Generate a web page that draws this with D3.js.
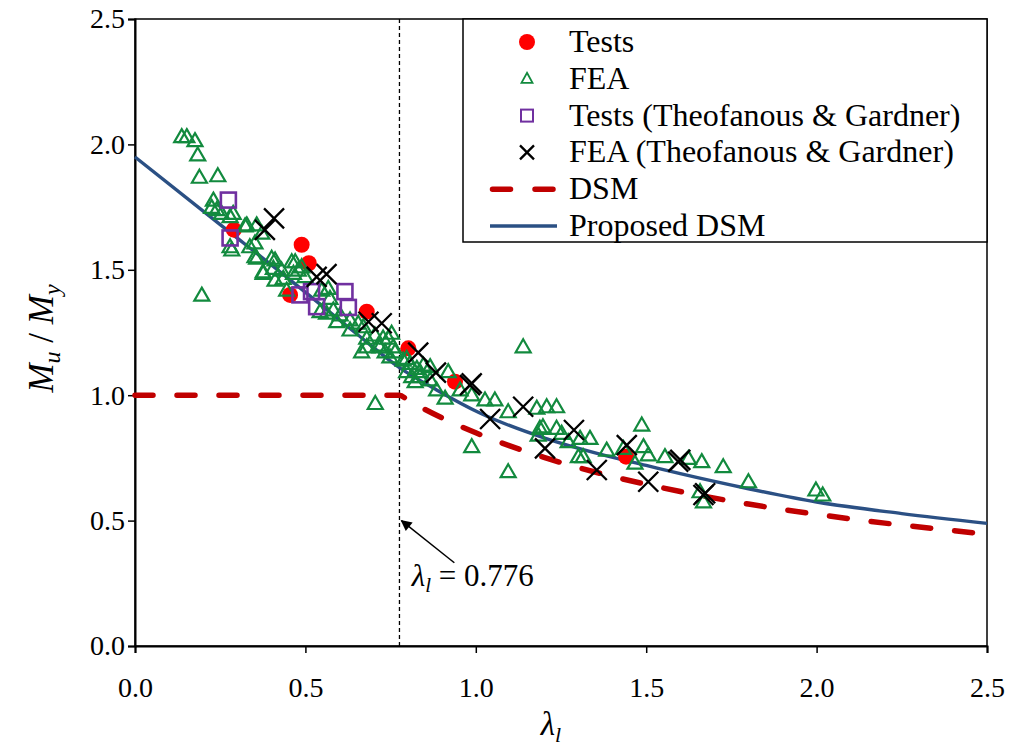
<!DOCTYPE html>
<html>
<head>
<meta charset="utf-8">
<script src="https://cdn.jsdelivr.net/npm/d3@7"></script>
<style>
  body { margin: 0; background: #fff; }
  svg { display: block; }
</style>
</head>
<body>
<svg id="chart" width="1012" height="747"></svg>
<script>
// Axis ticks
const lambdaTicks = [0, 0.5, 1.0, 1.5, 2.0, 2.5];
const ratioTicks = [0, 0.5, 1.0, 1.5, 2.0, 2.5];
const limitLambda = 0.776;

// Tests: [lambda_l, Mu/My]
const testsPts = [
  [0.290, 1.660], [0.489, 1.600], [0.510, 1.526], [0.455, 1.400],
  [0.680, 1.333], [0.802, 1.187], [0.939, 1.054], [1.441, 0.755]
];

// FEA
const feaPts = [
  [0.137, 2.031], [0.152, 2.031], [0.176, 2.015], [0.184, 1.958], [0.189, 1.869],
  [0.243, 1.875], [0.230, 1.778], [0.225, 1.749], [0.240, 1.740], [0.254, 1.725],
  [0.279, 1.712], [0.323, 1.675], [0.279, 1.592], [0.352, 1.607], [0.352, 1.552],
  [0.376, 1.486], [0.411, 1.539], [0.411, 1.459], [0.430, 1.499], [0.460, 1.532],
  [0.489, 1.512], [0.445, 1.419], [0.196, 1.399], [0.288, 1.725], [0.328, 1.679],
  [0.357, 1.679], [0.372, 1.646], [0.337, 1.592], [0.357, 1.546], [0.401, 1.546],
  [0.406, 1.506], [0.376, 1.492], [0.435, 1.466], [0.470, 1.532], [0.479, 1.499],
  [0.465, 1.486], [0.548, 1.419], [0.567, 1.426], [0.572, 1.386], [0.543, 1.333],
  [0.562, 1.327], [0.582, 1.340], [0.602, 1.320], [0.499, 1.473], [0.592, 1.293],
  [0.631, 1.260], [0.655, 1.287], [0.680, 1.193], [0.631, 1.300], [0.670, 1.273],
  [0.680, 1.227], [0.665, 1.173], [0.704, 1.240], [0.714, 1.200], [0.743, 1.227],
  [0.753, 1.247], [0.734, 1.173], [0.758, 1.193], [0.748, 1.153], [0.797, 1.147],
  [0.827, 1.107], [0.846, 1.120], [0.812, 1.074], [0.836, 1.074], [0.866, 1.114],
  [0.866, 1.061], [0.763, 1.173], [0.822, 1.054], [0.919, 1.094], [0.885, 1.021],
  [0.910, 0.988], [0.954, 1.021], [0.988, 1.001], [1.027, 0.981], [1.056, 0.981],
  [1.095, 0.934], [1.179, 0.948], [1.208, 0.954], [1.237, 0.954], [1.188, 0.868],
  [1.197, 0.874], [1.237, 0.868], [1.252, 0.848], [1.183, 0.841], [1.271, 0.815],
  [1.306, 0.828], [1.335, 0.828], [1.301, 0.755], [1.315, 0.755], [1.384, 0.781],
  [1.487, 0.881], [1.433, 0.788], [1.492, 0.795], [1.506, 0.762], [1.467, 0.729],
  [1.555, 0.755], [1.624, 0.748], [1.663, 0.735], [1.658, 0.615], [1.668, 0.575],
  [1.726, 0.715], [1.800, 0.655], [1.998, 0.622], [2.018, 0.602], [1.139, 1.193],
  [0.988, 0.795], [1.095, 0.695], [0.705, 0.967], [0.284, 1.579], [0.787, 1.140],
  [0.807, 1.127], [0.836, 1.094], [0.797, 1.094], [0.728, 1.228], [0.719, 1.193]
];

// Tests (Theofanous & Gardner)
const tgTestsPts = [
  [0.274, 1.778], [0.279, 1.627], [0.484, 1.400], [0.518, 1.413],
  [0.533, 1.353], [0.616, 1.413], [0.626, 1.350]
];

// FEA (Theofanous & Gardner)
const tgFeaPts = [
  [0.381, 1.659], [0.408, 1.705], [0.533, 1.472], [0.562, 1.483], [0.685, 1.293],
  [0.724, 1.287], [0.831, 1.170], [0.883, 1.090], [0.988, 1.047], [0.983, 1.040],
  [1.042, 0.905], [1.139, 0.954], [1.203, 0.788], [1.288, 0.861], [1.355, 0.702],
  [1.443, 0.801], [1.506, 0.655], [1.594, 0.735], [1.600, 0.742], [1.673, 0.609],
  [1.668, 0.602]
];

// DSM design curve
const dsmCurve = [
  [0, 1.0], [0.776, 1.0], [0.8, 0.981], [0.9, 0.910], [1.0, 0.850], [1.1, 0.798],
  [1.2, 0.752], [1.3, 0.712], [1.4, 0.676], [1.5, 0.645], [1.6, 0.616],
  [1.8, 0.566], [2.0, 0.525], [2.2, 0.490], [2.35, 0.467], [2.5, 0.446]
];

// Proposed DSM curve
const proposedCurve = [
  [0, 1.95], [0.25, 1.68], [0.455, 1.46], [0.55, 1.355], [0.65, 1.245],
  [0.776, 1.11], [0.885, 1.021], [1.012, 0.929], [1.2, 0.83], [1.364, 0.765],
  [1.5, 0.72], [1.6, 0.687], [1.8, 0.627], [2.0, 0.574], [2.25, 0.528], [2.5, 0.489]
];

const colors = {
  tests: "#ff0000", fea: "#128a3e", tgTests: "#7030a0", tgFea: "#000000",
  dsm: "#c00000", proposed: "#2b5084"
};

// Pick the first installed serif face by comparing measured widths against fallbacks
function hasFont(name) {
  const ctx = document.createElement("canvas").getContext("2d");
  const s = "Theofanous & Gardner 0.123456789 MWil";
  return ["monospace", "sans-serif"].some(base => {
    ctx.font = `40px ${base}`;
    const w0 = ctx.measureText(s).width;
    ctx.font = `40px "${name}", ${base}`;
    return Math.abs(ctx.measureText(s).width - w0) > 0.5;
  });
}
const serifCandidates = ["Liberation Serif", "Times New Roman", "Tinos", "DejaVu Serif",
  "Noto Serif", "FreeSerif", "Nimbus Roman", "Times"];
const serifFace = serifCandidates.find(hasFont);
const serif = serifFace ? `"${serifFace}", serif` : "serif";

const svg = d3.select("#chart").attr("font-family", serif);
const plotLeft = 135, plotRight = 987, plotTop = 19, plotBottom = 646;
const x = d3.scaleLinear().domain([0, 2.5]).range([plotLeft, plotRight]);
const y = d3.scaleLinear().domain([0, 2.5]).range([plotBottom, plotTop]);
const fmt = d3.format(".1f");

// Frame
svg.append("rect")
  .attr("x", plotLeft).attr("y", plotTop)
  .attr("width", plotRight - plotLeft).attr("height", plotBottom - plotTop)
  .attr("fill", "none").attr("stroke", "#000").attr("stroke-width", 1.5);

// Axes
const yAxis = svg.append("g")
  .attr("transform", `translate(${plotLeft},0)`)
  .call(d3.axisLeft(y).tickValues(ratioTicks).tickFormat(fmt).tickSize(7).tickPadding(3));
const xAxis = svg.append("g")
  .attr("transform", `translate(0,${plotBottom})`)
  .call(d3.axisBottom(x).tickValues(lambdaTicks).tickFormat(fmt).tickSize(7).tickPadding(24));
[yAxis, xAxis].forEach(g => {
  g.attr("font-family", serif).attr("font-size", 28);
  g.select(".domain").attr("stroke", "#000").attr("stroke-width", 2);
  g.selectAll(".tick line").attr("stroke", "#000").attr("stroke-width", 1.5);
  g.selectAll(".tick text").attr("fill", "#000");
});

// Axis titles
const yTitle = svg.append("text")
  .attr("transform", `translate(53,${(plotTop + plotBottom) / 2 + 6}) rotate(-90)`)
  .attr("text-anchor", "middle")
  .attr("font-family", serif).attr("font-size", 35);
yTitle.append("tspan").attr("font-style", "italic").text("M");
yTitle.append("tspan").attr("font-style", "italic").attr("font-size", 24).attr("dy", 7).text("u");
yTitle.append("tspan").attr("dy", -7).text(" / ");
yTitle.append("tspan").attr("font-style", "italic").text("M");
yTitle.append("tspan").attr("font-style", "italic").attr("font-size", 24).attr("dy", 7).text("y");

const xTitle = svg.append("text")
  .attr("x", (plotLeft + plotRight) / 2 - 10).attr("y", 735)
  .attr("text-anchor", "middle")
  .attr("font-family", serif).attr("font-size", 33);
xTitle.append("tspan").attr("font-style", "italic").text("λ");
xTitle.append("tspan").attr("font-style", "italic").attr("font-size", 22).attr("dy", 7).text("l");

// Limit line at lambda = 0.776
svg.append("line")
  .attr("x1", x(limitLambda)).attr("x2", x(limitLambda))
  .attr("y1", y(0)).attr("y2", y(2.5))
  .attr("stroke", "#000").attr("stroke-width", 1.3)
  .attr("stroke-dasharray", "4,3");

// Curves
const line = d3.line().x(d => x(d[0])).y(d => y(d[1])).curve(d3.curveMonotoneX);
svg.append("path").datum(dsmCurve)
  .attr("d", line).attr("fill", "none")
  .attr("stroke", colors.dsm).attr("stroke-width", 5.5)
  .attr("stroke-linecap", "round")
  .attr("stroke-dasharray", "18,24");
svg.append("path").datum(proposedCurve)
  .attr("d", line).attr("fill", "none")
  .attr("stroke", colors.proposed).attr("stroke-width", 3.4);

// Marker shapes
const triPath = "M0,-7.5L7.5,5.5L-7.5,5.5Z";
function drawCircle(g, px, py) {
  g.append("circle").attr("cx", px).attr("cy", py).attr("r", 8).attr("fill", colors.tests);
}
function drawTri(g, px, py) {
  g.append("path").attr("d", triPath).attr("transform", `translate(${px},${py})`)
    .attr("fill", "none").attr("stroke", colors.fea).attr("stroke-width", 2.2);
}
function drawSquare(g, px, py) {
  g.append("rect").attr("x", px - 7.5).attr("y", py - 7.5).attr("width", 15).attr("height", 15)
    .attr("fill", "none").attr("stroke", colors.tgTests).attr("stroke-width", 2.6);
}
function drawCross(g, px, py, r) {
  g.append("path").attr("d", `M${-r},${-r}L${r},${r}M${-r},${r}L${r},${-r}`)
    .attr("transform", `translate(${px},${py})`)
    .attr("fill", "none").attr("stroke", colors.tgFea).attr("stroke-width", 2.3);
}

const marks = svg.append("g");
testsPts.forEach(d => drawCircle(marks, x(d[0]), y(d[1])));
feaPts.forEach(d => drawTri(marks, x(d[0]), y(d[1])));
tgTestsPts.forEach(d => drawSquare(marks, x(d[0]), y(d[1])));
tgFeaPts.forEach(d => drawCross(marks, x(d[0]), y(d[1]), 10));

// Annotation arrow and label
const defs = svg.append("defs");
defs.append("marker").attr("id", "arrowHead")
  .attr("viewBox", "0 0 10 10").attr("refX", 9).attr("refY", 5)
  .attr("markerWidth", 14).attr("markerHeight", 11).attr("markerUnits", "userSpaceOnUse")
  .attr("orient", "auto")
  .append("path").attr("d", "M0,0L10,5L0,10Z").attr("fill", "#000");
svg.append("line")
  .attr("x1", x(0.937)).attr("y1", y(0.332))
  .attr("x2", x(limitLambda) + 2).attr("y2", y(0.5))
  .attr("stroke", "#000").attr("stroke-width", 1.5)
  .attr("marker-end", "url(#arrowHead)");
const ann = svg.append("text")
  .attr("x", x(0.812)).attr("y", y(0.238))
  .attr("font-family", serif).attr("font-size", 31);
ann.append("tspan").attr("font-style", "italic").text("λ");
ann.append("tspan").attr("font-style", "italic").attr("font-size", 21).attr("dy", 6).text("l");
ann.append("tspan").attr("dy", -6).text(" = " + limitLambda);

// Legend
const legend = svg.append("g");
legend.append("rect")
  .attr("x", 463).attr("y", plotTop).attr("width", plotRight - 463).attr("height", 223)
  .attr("fill", "#fff").attr("stroke", "#000").attr("stroke-width", 1.5);
const legendItems = [
  { label: "Tests", kind: "circle" },
  { label: "FEA", kind: "tri" },
  { label: "Tests (Theofanous & Gardner)", kind: "square" },
  { label: "FEA (Theofanous & Gardner)", kind: "cross" },
  { label: "DSM", kind: "dsm" },
  { label: "Proposed DSM", kind: "proposed" }
];
const rowY = i => 42 + i * 36.8;
legendItems.forEach((it, i) => {
  const cy = rowY(i), cx = 527;
  if (it.kind === "circle") drawCircle(legend, cx, cy);
  if (it.kind === "tri") legend.append("path").attr("d", "M0,-6L5.5,4L-5.5,4Z")
    .attr("transform", `translate(${cx},${cy})`).attr("fill", "none")
    .attr("stroke", colors.fea).attr("stroke-width", 1.8);
  if (it.kind === "square") legend.append("rect").attr("x", cx - 6).attr("y", cy - 6)
    .attr("width", 12).attr("height", 12).attr("fill", "none")
    .attr("stroke", colors.tgTests).attr("stroke-width", 2);
  if (it.kind === "cross") drawCross(legend, cx, cy, 7);
  if (it.kind === "dsm") legend.append("line").attr("x1", 492.5).attr("x2", 555)
    .attr("y1", cy).attr("y2", cy).attr("stroke", colors.dsm).attr("stroke-width", 5.5)
    .attr("stroke-linecap", "round").attr("stroke-dasharray", "18,24.5");
  if (it.kind === "proposed") legend.append("line").attr("x1", 490).attr("x2", 557)
    .attr("y1", cy).attr("y2", cy).attr("stroke", colors.proposed).attr("stroke-width", 3.4);
  legend.append("text").attr("x", 569).attr("y", cy + 10)
    .attr("font-family", serif).attr("font-size", 32).text(it.label);
});
</script>
</body>
</html>
